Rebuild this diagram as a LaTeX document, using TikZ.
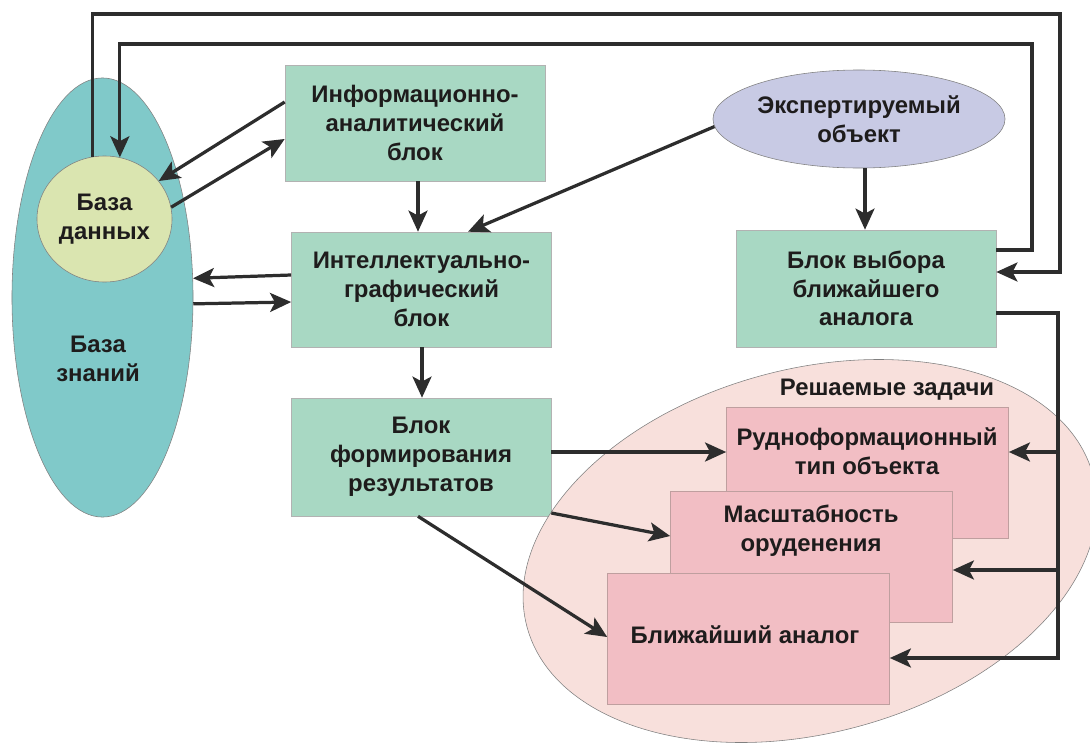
\documentclass[tikz,border=0pt]{standalone}
\usepackage{fontspec}
\setmainfont{Liberation Sans}
\usetikzlibrary{arrows.meta,shapes.geometric}
\definecolor{kbteal}{RGB}{128,201,201}
\definecolor{dbyellow}{RGB}{218,229,176}
\definecolor{blockgreen}{RGB}{168,216,195}
\definecolor{objlilac}{RGB}{200,202,228}
\definecolor{taskpink}{RGB}{248,224,220}
\definecolor{boxpink}{RGB}{242,190,196}
\definecolor{linegray}{RGB}{45,45,45}
\definecolor{txt}{RGB}{30,28,28}
\begin{document}
\begin{tikzpicture}[x=0.025cm,y=-0.025cm,
    every node/.style={font=\fontsize{17}{20.5}\selectfont\bfseries,text=txt,align=center},
    blk/.style={draw=gray!60,fill=blockgreen,minimum width=6.5cm,minimum height=2.9cm},
    task/.style={draw=gray!50!pink,fill=boxpink,minimum width=7.05cm,minimum height=3.27cm},
    oval/.style={ellipse,draw=gray,inner sep=0pt},
    ln/.style={draw=linegray,line width=2.3pt},
    arr/.style={ln,-{Stealth[length=15pt,width=13.5pt,inset=3.5pt]}}]
  \clip (0,0) rectangle (1090,743);
  % left side: knowledge base and data base
  \node[oval,fill=kbteal,minimum width=4.525cm,minimum height=10.975cm] (kb) at (102.5,297.5) {};
  \node (kbtext) at (98,359) {База\\знаний};
  \node[oval,fill=dbyellow,minimum width=3.375cm,minimum height=3.15cm] (db) at (104.5,219) {База\\данных};
  % middle column
  \node[blk] (info) at (415,123) {Информационно-\\аналитический\\блок};
  \node[blk,minimum height=2.875cm] (intel) at (421.5,289.5) {Интеллектуально-\\графический\\блок};
  \node[blk,minimum height=2.95cm] (form) at (421,457) {Блок\\формирования\\результатов};
  % right column
  \node[oval,fill=objlilac,minimum width=7.3cm,minimum height=2.45cm] (exp) at (859,119) {Экспертируемый\\объект};
  \node[blk,minimum height=2.925cm] (bv) at (866,288.5) {Блок выбора\\ближайшего\\аналога};
  % solved tasks
  \draw[draw=gray,fill=taskpink,rotate around={15:(810,551)}] (810,551) ellipse (293 and 182);
  \node (tasks) at (887,390) {Решаемые задачи};
  \node[task] (r1) at (867.5,473) {};
  \node (t1) at (867,451) {Рудноформационный\\тип объекта};
  \node[task] (r2) at (811.5,557) {};
  \node (t2) at (811,531) {Масштабность\\оруденения};
  \node[task] (r3) at (748.5,638.5) {};
  \node (t3) at (745,635) {Ближайший аналог};
  \coordinate (bus1) at (1058,452);
  \coordinate (bus2) at (1058,570);
  \coordinate (bus3) at (1058,658);
  % connectors
  \draw[arr] (db.101) |- (1060,14) |- (bv.east |- 0,272);
  \draw[arr] (bv.east |- 0,250) -| (1032,44) -| (db.76);
  \draw[arr] (info.west |- 0,102) -- (db.35);
  \draw[arr] (db.10) -- (info.west |- 0,139);
  \draw[arr] (info.south -| 418,0) -- (intel.north -| 418,0);
  \draw[arr] (exp.183) -- (intel.north -| 468,0);
  \draw[arr] (exp.south -| 865,0) -- (bv.north -| 865,0);
  \draw[arr] (intel.west |- 0,275) -- (kb.12);
  \draw[arr] (kb.356) -- (intel.west |- 0,302);
  \draw[arr] (intel.south -| 422,0) -- (form.north -| 422,0);
  \draw[arr] (form.east |- 0,452) -- (r1.west |- 0,452);
  \draw[arr] (form.east |- 0,513) -- (r2.west |- 0,536);
  \draw[arr] (form.south -| 418,0) -- (r3.west |- 0,637);
  \draw[arr] (bv.east |- 0,313) -| (bus3) -- (r3.east |- bus3);
  \draw[arr] (bus1) -- (r1.east |- bus1);
  \draw[arr] (bus2) -- (r2.east |- bus2);
\end{tikzpicture}
\end{document}
